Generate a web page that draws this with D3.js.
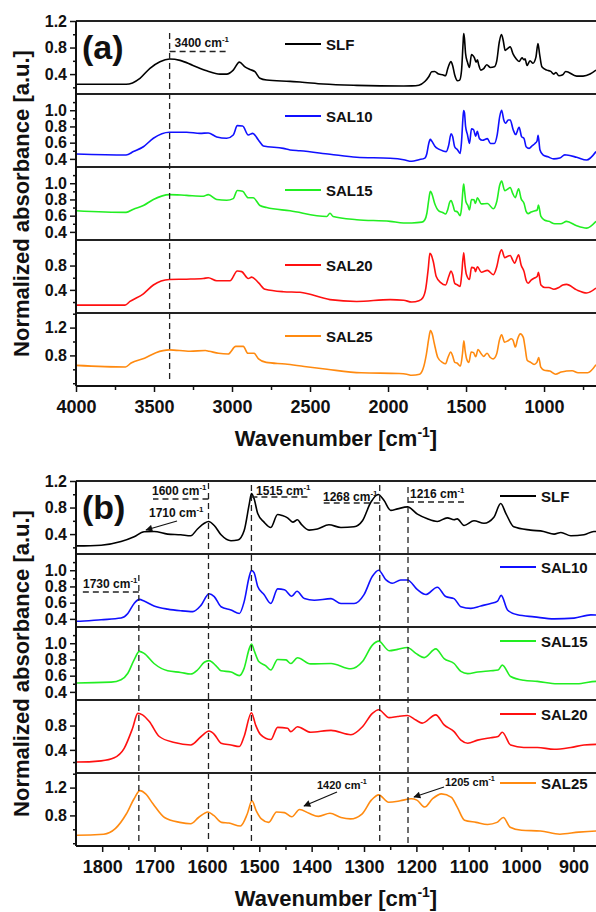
<!DOCTYPE html>
<html>
<head>
<meta charset="utf-8">
<script src="https://cdn.jsdelivr.net/npm/d3@7"></script>
<style>
  body { margin: 0; background: #fff; }
  text { font-family: "Liberation Sans", Arial, sans-serif; font-weight: bold; fill: #111; }
</style>
</head>
<body>
<svg id="chart" width="596" height="912"></svg>
<script>

// series names / colours
var seriesNames = ["SLF", "SAL10", "SAL15", "SAL20", "SAL25"];
var seriesColors = ["#000000", "#1010ff", "#22ee22", "#ff1010", "#ff8a10"];

// spectra: [wavenumber, normalized absorbance]
var slf = [[4000,0.246],[3679,0.246],[3590,0.337],[3526,0.487],[3462,0.587],[3400,0.627],[3333,0.607],[3250,0.53],[3162,0.45],[3077,0.40],[3034,0.40],[2992,0.46],[2953,0.58],[2917,0.51],[2885,0.47],[2853,0.436],[2821,0.337],[2778,0.31],[2628,0.29],[2564,0.28],[2415,0.25],[2201,0.23],[1900,0.22],
  [1848,0.222],[1802,0.233],[1764,0.288],[1739,0.36],[1720,0.436],[1701,0.44],[1675,0.40],[1650,0.39],[1631,0.375],[1618,0.477],[1605,0.563],[1597,0.589],[1586,0.53],[1573,0.39],[1554,0.30],[1541,0.31],[1529,0.45],[1519,0.86],[1515,1.01],[1510,0.935],[1503,0.71],[1491,0.58],[1478,0.50],[1465,0.696],[1456,0.68],[1446,0.645],[1436,0.58],[1427,0.615],[1420,0.55],[1405,0.46],[1389,0.477],[1367,0.54],[1344,0.50],[1319,0.51],[1303,0.60],[1287,0.88],[1273,0.996],[1262,0.91],[1249,0.757],[1236,0.78],[1217,0.81],[1198,0.70],[1179,0.63],[1160,0.59],[1141,0.645],[1128,0.615],[1122,0.63],[1109,0.53],[1090,0.60],[1071,0.563],[1052,0.655],[1039,0.86],[1029,0.71],[1014,0.51],[982,0.46],[957,0.44],[937,0.40],[924,0.425],[905,0.375],[880,0.39],[861,0.44],[791,0.37],[750,0.37],[705,0.40],[667,0.46]];

var sal10 = [[4000,0.46],[3679,0.448],[3632,0.49],[3568,0.55],[3504,0.654],[3402,0.728],[3291,0.728],[3205,0.715],[3152,0.72],[3098,0.67],[3034,0.654],[2992,0.695],[2966,0.81],[2932,0.806],[2896,0.695],[2867,0.715],[2831,0.633],[2799,0.56],[2671,0.53],[2628,0.51],[2564,0.50],[2372,0.457],[2201,0.42],[1987,0.407],[1900,0.39],
  [1848,0.37],[1802,0.39],[1764,0.41],[1751,0.467],[1739,0.59],[1729,0.64],[1720,0.62],[1701,0.56],[1675,0.52],[1650,0.50],[1627,0.49],[1611,0.57],[1596,0.71],[1586,0.675],[1573,0.55],[1554,0.51],[1538,0.467],[1529,0.61],[1519,0.925],[1515,0.996],[1510,0.97],[1503,0.80],[1491,0.70],[1478,0.59],[1465,0.77],[1452,0.76],[1438,0.68],[1428,0.74],[1414,0.65],[1395,0.63],[1363,0.65],[1344,0.59],[1319,0.59],[1300,0.70],[1284,0.925],[1272,1.0],[1258,0.88],[1246,0.84],[1230,0.88],[1217,0.88],[1198,0.76],[1182,0.70],[1160,0.79],[1144,0.675],[1128,0.65],[1115,0.55],[1096,0.53],[1077,0.56],[1058,0.59],[1045,0.62],[1038,0.69],[1026,0.51],[1007,0.45],[975,0.425],[937,0.40],[899,0.41],[867,0.45],[855,0.448],[791,0.42],[727,0.386],[667,0.49]];

var sal15 = [[4000,0.66],[3679,0.64],[3632,0.68],[3568,0.725],[3504,0.80],[3402,0.86],[3291,0.85],[3184,0.84],[3152,0.86],[3098,0.80],[3034,0.79],[2992,0.81],[2966,0.91],[2932,0.90],[2896,0.82],[2864,0.82],[2821,0.725],[2778,0.70],[2628,0.66],[2393,0.59],[2372,0.63],[2352,0.59],[2201,0.55],[1987,0.53],[1900,0.51],
  [1848,0.51],[1783,0.52],[1764,0.55],[1751,0.63],[1739,0.795],[1729,0.90],[1720,0.875],[1701,0.75],[1675,0.66],[1650,0.64],[1631,0.62],[1618,0.67],[1605,0.765],[1596,0.786],[1583,0.725],[1573,0.66],[1554,0.645],[1538,0.60],[1529,0.69],[1519,0.936],[1515,0.99],[1509,0.896],[1501,0.774],[1488,0.725],[1478,0.67],[1465,0.80],[1449,0.795],[1440,0.75],[1427,0.82],[1402,0.745],[1363,0.75],[1325,0.685],[1303,0.774],[1284,0.977],[1272,1.026],[1252,0.908],[1236,0.924],[1217,0.948],[1201,0.875],[1185,0.823],[1163,0.93],[1147,0.81],[1128,0.75],[1115,0.653],[1102,0.625],[1083,0.645],[1058,0.66],[1044,0.67],[1036,0.73],[1020,0.59],[995,0.543],[969,0.53],[931,0.50],[893,0.50],[856,0.53],[791,0.475],[727,0.446],[667,0.53]];

var sal20 = [[4000,0.15],[3686,0.15],[3654,0.21],[3568,0.336],[3504,0.48],[3402,0.57],[3291,0.576],[3184,0.587],[3152,0.60],[3098,0.55],[3013,0.55],[2966,0.71],[2938,0.70],[2896,0.587],[2874,0.61],[2831,0.52],[2788,0.41],[2671,0.37],[2564,0.36],[2372,0.24],[2201,0.21],[1987,0.24],[1900,0.23],
  [1848,0.20],[1802,0.22],[1777,0.27],[1758,0.425],[1742,0.755],[1732,1.0],[1723,0.976],[1710,0.866],[1691,0.62],[1662,0.52],[1631,0.48],[1611,0.62],[1596,0.71],[1586,0.656],[1573,0.51],[1554,0.48],[1538,0.455],[1529,0.62],[1515,1.01],[1507,0.81],[1498,0.656],[1478,0.57],[1465,0.77],[1446,0.755],[1440,0.70],[1427,0.78],[1402,0.69],[1363,0.72],[1325,0.65],[1303,0.78],[1284,1.0],[1272,1.06],[1252,0.93],[1236,0.95],[1217,0.965],[1201,0.89],[1189,0.84],[1163,0.976],[1147,0.81],[1128,0.70],[1115,0.56],[1102,0.51],[1083,0.56],[1058,0.60],[1044,0.62],[1036,0.69],[1020,0.48],[995,0.44],[969,0.44],[937,0.41],[905,0.44],[880,0.48],[856,0.49],[791,0.40],[727,0.35],[667,0.43]];

var sal25 = [[4000,0.657],[3683,0.634],[3647,0.69],[3561,0.76],[3488,0.84],[3402,0.88],[3269,0.86],[3171,0.87],[3147,0.86],[3086,0.83],[3025,0.82],[2976,0.93],[2928,0.93],[2898,0.83],[2859,0.83],[2830,0.75],[2781,0.70],[2659,0.676],[2537,0.64],[2391,0.60],[2172,0.55],[1928,0.54],[1880,0.53],
  [1848,0.514],[1797,0.53],[1775,0.61],[1754,0.82],[1739,1.04],[1728,1.157],[1717,1.11],[1703,0.967],[1681,0.77],[1652,0.70],[1631,0.68],[1616,0.77],[1598,0.85],[1587,0.80],[1572,0.70],[1558,0.69],[1536,0.647],[1523,0.82],[1514,1.01],[1506,0.87],[1496,0.75],[1482,0.70],[1467,0.85],[1452,0.84],[1438,0.78],[1423,0.886],[1405,0.83],[1387,0.786],[1365,0.83],[1344,0.77],[1326,0.75],[1304,0.82],[1286,1.02],[1272,1.096],[1253,0.99],[1231,1.01],[1210,1.04],[1199,1.02],[1184,0.92],[1169,1.04],[1152,1.11],[1133,1.06],[1122,0.92],[1108,0.73],[1086,0.70],[1064,0.67],[1046,0.70],[1034,0.77],[1021,0.63],[999,0.586],[963,0.576],[926,0.53],[890,0.56],[856,0.576],[820,0.58],[782,0.55],[721,0.55],[667,0.666]];

var allSeries = [slf, sal10, sal15, sal20, sal25];

// y scales per stacked trace
var yDomains = [[0.1, 1.2], [0.3, 1.2], [0.3, 1.2], [0.02, 1.22], [0.36, 1.41]];
var yMajor = [[0.4, 0.8, 1.2], [0.4, 0.6, 0.8, 1.0], [0.4, 0.6, 0.8, 1.0], [0.4, 0.8], [0.8, 1.2]];
var yMinor = [[0.2, 0.6, 1.0], [0.5, 0.7, 0.9, 1.1], [0.5, 0.7, 0.9, 1.1], [0.2, 0.6, 1.0], [0.4, 0.6, 1.0, 1.4]];

// x ticks
var xTicksA = [4000, 3500, 3000, 2500, 2000, 1500, 1000];
var xMinorA = [3750, 3250, 2750, 2250, 1750, 1250, 750];
var xTicksB = [1800, 1700, 1600, 1500, 1400, 1300, 1200, 1100, 1000, 900];
var xMinorB = [1750, 1650, 1550, 1450, 1350, 1250, 1150, 1050, 950];

// marked bands
var band3400 = 3400;
var bandsB = [1730, 1597, 1515, 1270, 1216];
var bandLabelsB = ["1730", "1600", "1515", "1268", "1216"];

var svg = d3.select("#chart");
var left = 76, right = 596;

var defs = svg.append("defs");
defs.append("marker")
  .attr("id", "arrow")
  .attr("viewBox", "0 0 10 10")
  .attr("refX", 9).attr("refY", 5)
  .attr("markerWidth", 9).attr("markerHeight", 7)
  .attr("markerUnits", "userSpaceOnUse")
  .attr("orient", "auto")
  .append("path").attr("d", "M0,0 L10,5 L0,10 z").attr("fill", "#111");

// text with a cm^-1 superscript
function cmLabel(g, x, y, num, size) {
  var t = g.append("text").attr("x", x).attr("y", y).attr("font-size", size);
  t.append("tspan").text(num + " cm");
  t.append("tspan").attr("dy", -size * 0.42).attr("font-size", size * 0.66).text("-1");
  return t;
}

var panels = [
  { label: "(a)", top: 21, bottom: 386, domain: [4000, 667], major: xTicksA, minor: xMinorA,
    legendOff: [23, 22, 23, 25, 23], legendX: 285 },
  { label: "(b)", top: 481, bottom: 846, domain: [1850, 857], major: xTicksB, minor: xMinorB,
    legendOff: [15, 13, 14, 14, 10], legendX: 500 }
];

panels.forEach(function(p, pi) {
  var x = d3.scaleLinear().domain(p.domain).range([left, right]);
  var subH = (p.bottom - p.top) / 5;
  var g = svg.append("g");
  p.x = x;

  allSeries.forEach(function(data, i) {
    var t = p.top + i * subH, b = t + subH;
    var y = d3.scaleLinear().domain(yDomains[i]).range([b, t]);
    var clipId = "clip" + pi + "_" + i;
    defs.append("clipPath").attr("id", clipId)
      .append("rect").attr("x", left).attr("y", t).attr("width", right - left).attr("height", subH);

    g.append("path")
      .datum(data)
      .attr("clip-path", "url(#" + clipId + ")")
      .attr("fill", "none")
      .attr("stroke", seriesColors[i])
      .attr("stroke-width", 1.6)
      .attr("stroke-linejoin", "round")
      .attr("d", d3.line().x(d => x(d[0])).y(d => y(d[1])).curve(d3.curveMonotoneX));

    // y axis
    var ax = g.append("g")
      .attr("transform", "translate(" + left + ",0)")
      .call(d3.axisLeft(y).tickValues(yMajor[i]).tickFormat(d3.format(".1f")).tickSize(6).tickPadding(3));
    ax.select(".domain").remove();
    ax.selectAll("line").attr("stroke", "#111").attr("stroke-width", 1.5);
    ax.selectAll("text").attr("font-size", 16).attr("fill", "#111");

    var mi = g.append("g")
      .attr("transform", "translate(" + left + ",0)")
      .call(d3.axisLeft(y).tickValues(yMinor[i]).tickFormat("").tickSize(3));
    mi.select(".domain").remove();
    mi.selectAll("line").attr("stroke", "#111").attr("stroke-width", 1.5);

    // separator / frame line
    g.append("line").attr("x1", left).attr("x2", right).attr("y1", t).attr("y2", t)
      .attr("stroke", "#222").attr("stroke-width", 2);

    // legend
    var ly = t + p.legendOff[i];
    g.append("line").attr("x1", p.legendX).attr("x2", p.legendX + 36).attr("y1", ly).attr("y2", ly)
      .attr("stroke", seriesColors[i]).attr("stroke-width", 1.8);
    g.append("text").attr("x", p.legendX + 41).attr("y", ly + 5.5).attr("font-size", 15).text(seriesNames[i]);
  });

  // left axis line
  g.append("line").attr("x1", left).attr("x2", left).attr("y1", p.top).attr("y2", p.bottom)
    .attr("stroke", "#111").attr("stroke-width", 2);

  // x axis
  var xa = g.append("g")
    .attr("transform", "translate(0," + p.bottom + ")")
    .call(d3.axisBottom(x).tickValues(p.major).tickFormat(d3.format("d")).tickSize(6).tickPadding(8));
  xa.select(".domain").remove();
  xa.selectAll("line").attr("stroke", "#111").attr("stroke-width", 1.5);
  xa.selectAll("text").attr("font-size", 18).attr("fill", "#111");
  var xm = g.append("g")
    .attr("transform", "translate(0," + p.bottom + ")")
    .call(d3.axisBottom(x).tickValues(p.minor).tickFormat("").tickSize(4));
  xm.select(".domain").remove();
  xm.selectAll("line").attr("stroke", "#111").attr("stroke-width", 1.5);
  g.append("line").attr("x1", left).attr("x2", right).attr("y1", p.bottom).attr("y2", p.bottom)
    .attr("stroke", "#111").attr("stroke-width", 2);

  // axis titles
  var xt = g.append("text").attr("x", (left + right) / 2).attr("y", p.bottom + 60)
    .attr("text-anchor", "middle").attr("font-size", 22);
  xt.append("tspan").text("Wavenumber [cm");
  xt.append("tspan").attr("dy", -9).attr("font-size", 14).text("-1");
  xt.append("tspan").attr("dy", 9).text("]");

  g.append("text")
    .attr("transform", "translate(29," + ((p.top + p.bottom) / 2) + ") rotate(-90)")
    .attr("text-anchor", "middle").attr("font-size", 22)
    .text("Normalized absorbance [a.u.]");

  // panel letter
  g.append("text").attr("x", 82).attr("y", p.top + 38).attr("font-size", 34).text(p.label);
});

// annotations, panel (a)
var ga = svg.append("g").attr("stroke", "#222").attr("stroke-width", 1.3).attr("stroke-dasharray", "6,4").attr("fill", "none");
var xA = panels[0].x, xB = panels[1].x;
ga.append("line").attr("x1", xA(band3400)).attr("x2", xA(band3400)).attr("y1", 33).attr("y2", 381);
ga.append("line").attr("x1", xA(band3400)).attr("x2", xA(3030)).attr("y1", 51.5).attr("y2", 51.5);
cmLabel(svg, xA(band3400) + 5, 47, "3400", 12);

// annotations, panel (b)
var topsB = [575, 483, 485, 485, 487];
var barY = [592, 499, 497, 503, 502];
var barTo = [1837, 1703, 1402, 1379, 1102];
var labelX = [83, 152, 256, 323, 410];
var labelY = [588, 495, 495, 501, 498];
bandsB.forEach(function(wn, k) {
  ga.append("line").attr("x1", xB(wn)).attr("x2", xB(wn)).attr("y1", topsB[k]).attr("y2", 843);
  ga.append("line").attr("x1", xB(wn)).attr("x2", xB(barTo[k])).attr("y1", barY[k]).attr("y2", barY[k]);
  cmLabel(svg, labelX[k], labelY[k], bandLabelsB[k], 12);
});

// arrows
var arrows = [
  { text: "1710", tx: 149, ty: 517, x1: 177, y1: 521, x2: 146, y2: 530, size: 12 },
  { text: "1420", tx: 317, ty: 789, x1: 337, y1: 792, x2: 304, y2: 806, size: 11 },
  { text: "1205", tx: 445, ty: 786, x1: 444, y1: 787, x2: 414, y2: 797, size: 11 }
];
arrows.forEach(function(a) {
  svg.append("line").attr("x1", a.x1).attr("y1", a.y1).attr("x2", a.x2).attr("y2", a.y2)
    .attr("stroke", "#111").attr("stroke-width", 1.3).attr("marker-end", "url(#arrow)");
  cmLabel(svg, a.tx, a.ty, a.text, a.size);
});

</script>
</body>
</html>
